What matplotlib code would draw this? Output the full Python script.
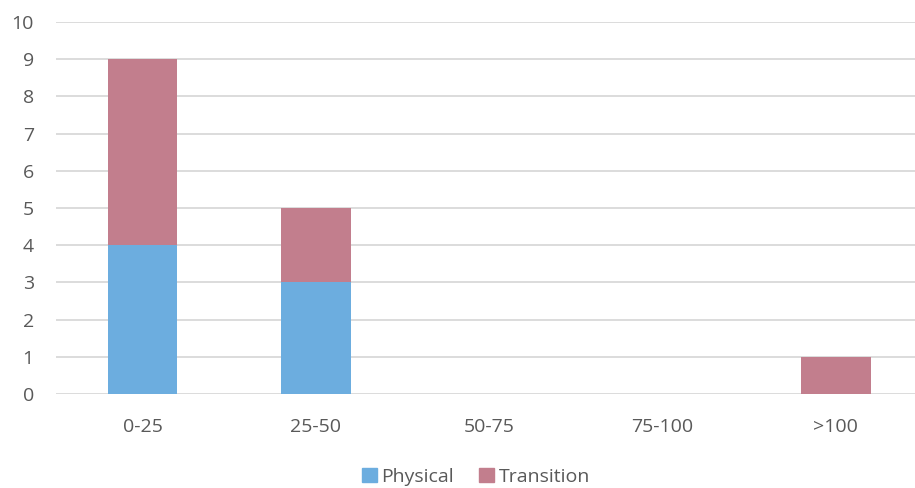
import matplotlib.pyplot as plt
import numpy as np

categories = ["0-25", "25-50", "50-75", "75-100", ">100"]
physical = [4, 3, 0, 0, 0]
transition = [5, 2, 0, 0, 1]

blue = "#6CADDF"
pink = "#C27E8D"
grey = "#595959"

plt.rcParams["font.family"] = ["Open Sans", "DejaVu Sans"]

fig = plt.figure(figsize=(9.15, 4.88), dpi=100)
ax = fig.add_axes([56 / 915, 94 / 488, 866.5 / 915, 372 / 488])

x = np.arange(len(categories))
ax.bar(x, physical, width=0.4, color=blue, zorder=3)
ax.bar(x, transition, width=0.4, bottom=physical, color=pink, zorder=3)

ax.set_xlim(-0.5, len(categories) - 0.5)
ax.set_ylim(0, 10)
ax.set_yticks(range(0, 11))
ax.set_xticks(x)
ax.set_xticklabels(categories)
ax.grid(axis="y", color="#D9D9D9", linewidth=1.3, zorder=0)
ax.set_axisbelow(True)
for s in ax.spines.values():
    s.set_visible(False)
ax.tick_params(length=0, labelsize=14, colors=grey)
ax.tick_params(axis="y", pad=16)
ax.tick_params(axis="x", pad=17)

handles = [plt.Rectangle((0, 0), 1, 1, color=blue),
           plt.Rectangle((0, 0), 1, 1, color=pink)]
fig.legend(handles, ["Physical", "Transition"], loc="center",
           bbox_to_anchor=(476 / 915, 1 - 477 / 488), ncol=2, frameon=False,
           fontsize=14, labelcolor=grey, handlelength=0.75, handleheight=0.75,
           handletextpad=0.25, columnspacing=1.3)

fig.savefig("out.png", dpi=100)
